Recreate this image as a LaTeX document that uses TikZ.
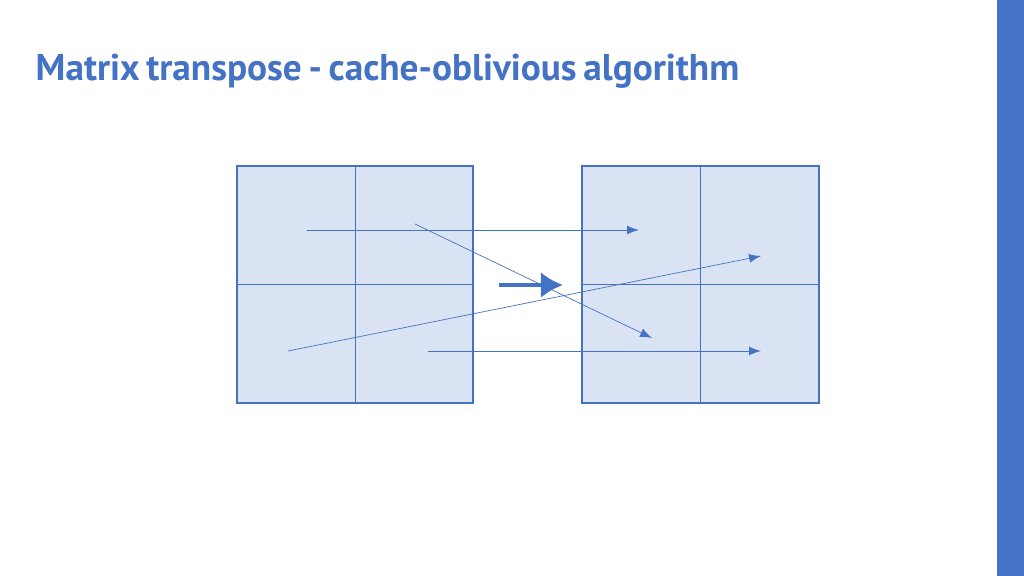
\documentclass[tikz,border=0pt]{standalone}
\usepackage{fontspec}
\setmainfont{PT Sans}
\definecolor{accent}{HTML}{4472C4}
\definecolor{cellfill}{HTML}{DAE3F3}
\tikzset{
  cell/.style={fill=cellfill, draw=accent, line width=0.3pt},
  move/.style={accent, line width=0.2pt, -latex},
  bigmove/.style={accent, line width=1.3pt, -{Latex[length=2.2mm,width=2.6mm]}}
}
\usetikzlibrary{arrows.meta}
\begin{document}
\begin{tikzpicture}[x=0.01cm,y=-0.01cm]
  \useasboundingbox (0,0) rectangle (1024,576);
  \fill[accent] (997,0) rectangle (1024,576);

  % title
  \node[anchor=west, text=accent, font=\fontsize{10.6}{12}\selectfont\bfseries, inner sep=0] (title) at (35,71) {\spaceskip=0.18em Matrix transpose - cache-oblivious algorithm};

  % source and target matrices
  \draw[cell] (237,166) rectangle (473,403);
  \draw[accent, line width=0.2pt] (355,166) -- (355,403) (237,284) -- (473,284);
  \draw[cell] (582,166) rectangle (819,403);
  \draw[accent, line width=0.2pt] (700,166) -- (700,403) (582,284) -- (819,284);

  \coordinate (a1) at (307,230);  \coordinate (b1) at (639,230);
  \coordinate (a2) at (415,224);  \coordinate (b2) at (652,338);
  \coordinate (a3) at (288,351);  \coordinate (b3) at (761,256);
  \coordinate (a4) at (428,351);  \coordinate (b4) at (761,351);
  \foreach \i in {1,...,4}
    \draw[move] (a\i) -- (b\i);

  \coordinate (p) at (499,285);
  \coordinate (q) at (563,285);
  \draw[bigmove] (p) -- (q);
\end{tikzpicture}
\end{document}
